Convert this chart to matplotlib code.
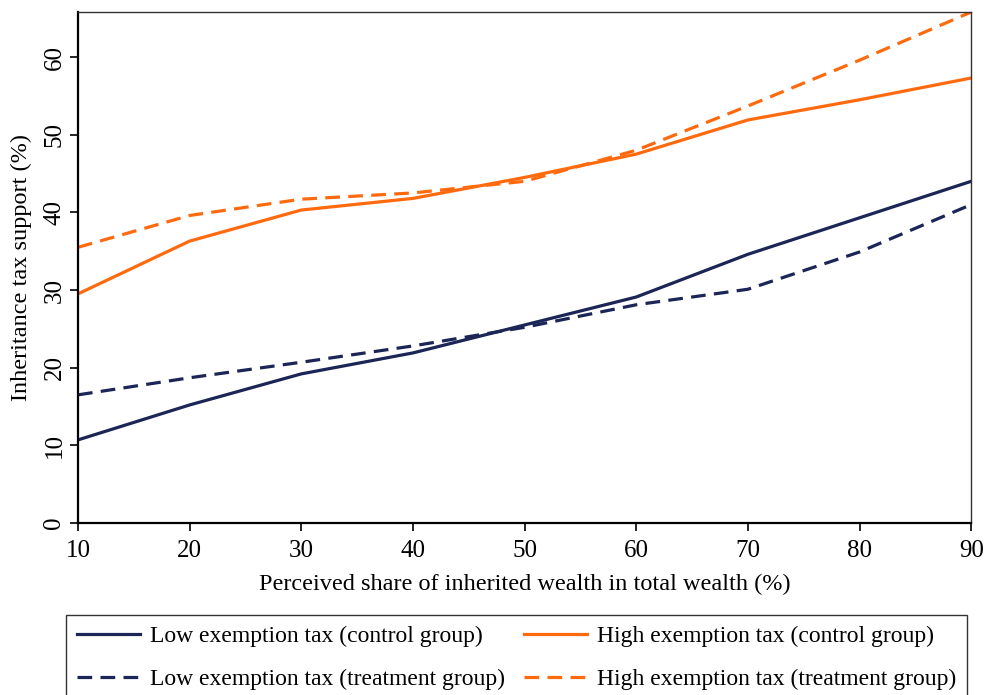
import matplotlib
matplotlib.use("Agg")
import matplotlib.pyplot as plt

x = [10, 20, 30, 40, 50, 60, 70, 80, 90]
low_control = [10.7, 15.2, 19.2, 21.9, 25.5, 29.1, 34.6, 39.3, 44.0]
low_treatment = [16.5, 18.7, 20.7, 22.8, 25.2, 28.1, 30.1, 34.9, 41.0]
high_control = [29.5, 36.3, 40.3, 41.8, 44.5, 47.5, 51.9, 54.5, 57.3]
high_treatment = [35.5, 39.6, 41.7, 42.5, 44.0, 48.0, 53.7, 59.6, 65.8]

labels = ["Low exemption tax (control group)", "Low exemption tax (treatment group)",
          "High exemption tax (control group)", "High exemption tax (treatment group)"]
xticks = [10, 20, 30, 40, 50, 60, 70, 80, 90]
yticks = [0, 10, 20, 30, 40, 50, 60]

plt.rcParams['font.family'] = ['Liberation Serif', 'DejaVu Serif']

navy = '#1b2656'
orange = '#ff6a0e'

fig = plt.figure(figsize=(9.87, 6.95), dpi=100)
ax = fig.add_axes([0.079, 0.2475, 0.905, 0.7352])

lw = 2.3
dash = (4.6, 2.6)
l1, = ax.plot(x, low_control, color=navy, lw=lw, label=labels[0])
l2, = ax.plot(x, low_treatment, color=navy, lw=lw, dashes=dash, label=labels[1])
l3, = ax.plot(x, high_control, color=orange, lw=lw, label=labels[2])
l4, = ax.plot(x, high_treatment, color=orange, lw=lw, dashes=dash, label=labels[3])

ax.set_xlim(10, 90)
ax.set_ylim(0, 65.8)
ax.set_xticks(xticks)
ax.set_yticks(yticks)
ax.tick_params(axis='both', direction='out', length=6, width=1.2, labelsize=18, colors='black')
for lab in ax.get_yticklabels():
    lab.set_rotation(90)
    lab.set_va('center')
ax.tick_params(axis='y', pad=3)
ax.tick_params(axis='x', pad=6)
for s in ['left', 'bottom']:
    ax.spines[s].set_linewidth(1.6)
    ax.spines[s].set_color('black')
for s in ['top', 'right']:
    ax.spines[s].set_linewidth(1.0)
    ax.spines[s].set_color('#333333')

ax.set_xlabel("Perceived share of inherited wealth in total wealth (%)", fontsize=17.5, labelpad=9)
ax.set_ylabel("Inheritance tax support (%)", fontsize=17.5, labelpad=8)

leg = fig.legend(handles=[l1, l2, l3, l4], loc='upper left',
                 bbox_to_anchor=(0.0669, 0.115),
                 ncol=2, fontsize=17, frameon=True, fancybox=False,
                 edgecolor='black', handlelength=2.7, handletextpad=0.4,
                 borderaxespad=0, borderpad=0.45, labelspacing=0.9, columnspacing=0.8)
leg.get_frame().set_linewidth(1.0)

fig.savefig("out.png", dpi=100)
